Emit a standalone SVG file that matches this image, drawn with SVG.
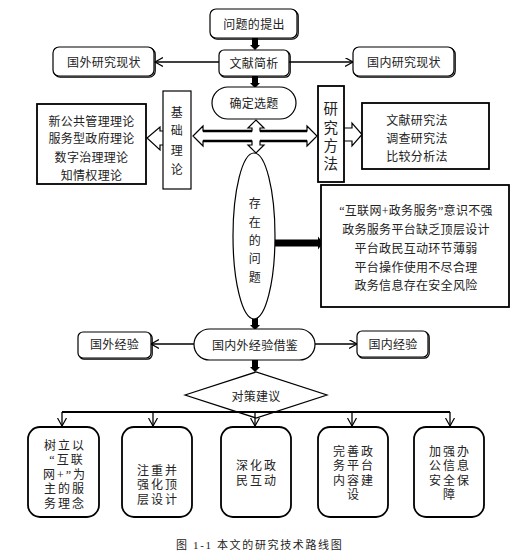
<svg xmlns="http://www.w3.org/2000/svg" width="529" height="559" viewBox="0 0 529 559">
<defs>
<style>
text{font-family:"Liberation Serif","Noto Sans CJK SC",serif;fill:#222;font-size:12px;letter-spacing:0.3px;text-anchor:middle}
.box{fill:#fff;stroke:#000;stroke-width:1.2}
.sh{fill:none;stroke:#000;stroke-width:1.2}
.tb{fill:#fff;stroke:#000;stroke-width:1.8}
.ln{fill:none;stroke:#000;stroke-width:1.3}
.big{font-size:12px;letter-spacing:2px}
.blk{fill:#000;stroke:none}
.hol{fill:#fff;stroke:#000;stroke-width:1.2}
</style>
<marker id="v" markerUnits="userSpaceOnUse" markerWidth="10" markerHeight="10" refX="8" refY="4.5" orient="auto">
<path d="M0,0 L8,4.5 L0,9" fill="none" stroke="#000" stroke-width="1.2"/>
</marker>
</defs>
<rect width="529" height="559" fill="#fff"/>

<g id="connectors">
<polygon class="blk" points="252,38 258,38 258,45 260,45 255,50 250,45 252,45"/>
<polygon class="blk" points="252,76 258,76 258,83 260,83 255,88 250,83 252,83"/>
<line class="ln" x1="219" y1="62" x2="155" y2="62" marker-end="url(#v)"/>
<line class="ln" x1="289" y1="62" x2="353" y2="62" marker-end="url(#v)"/>
<path class="hol" d="M193,136 L203,126 L203,131 L252,131 L252,128 L248,128 L256,120 L264,128 L260,128 L260,131 L307,131 L307,126 L317,136 L307,146 L307,141 L260,141 L260,145 L264,145 L256,153 L248,145 L252,145 L252,141 L203,141 L203,146 Z"/>
<path d="M203,131 L252,131 M260,131 L307,131 M203,141 L252,141 M260,141 L307,141" stroke="#000" stroke-width="2.6" fill="none"/>
<path class="hol" d="M163,131 L160,131 L160,127 L147,138 L160,150 L160,145 L163,145"/>
<path class="hol" d="M344,128 L352,128 L352,123 L362,134.5 L352,146 L352,141 L344,141"/>
<polygon class="blk" points="275,239.5 318,239.5 318,236.5 323,243 318,249.5 318,246.5 275,246.5"/>
<polygon class="blk" points="252,318 258,318 258,325 260,325 255,330 250,325 252,325"/>
<line class="ln" x1="194" y1="344" x2="151" y2="344" marker-end="url(#v)"/>
<line class="ln" x1="315" y1="344" x2="357" y2="344" marker-end="url(#v)"/>
<polygon class="blk" points="252,360 258,360 258,367 260,367 255,372 250,367 252,367"/>
</g>

<g id="n1"><rect class="sh" x="211.2" y="10.2" width="87" height="29" rx="6"/><rect class="box" x="210" y="9" width="87" height="29" rx="6"/><text x="254" y="28.5">问题的提出</text></g>
<g id="n2"><rect class="sh" x="220.2" y="51.2" width="70" height="26" rx="5"/><rect class="box" x="219" y="50" width="70" height="26" rx="5"/><text x="254" y="67.5">文献简析</text></g>
<g id="n3"><rect class="sh" x="54.2" y="48.2" width="101" height="29" rx="6"/><rect class="box" x="53" y="47" width="101" height="29" rx="6"/><text x="104" y="67">国外研究现状</text></g>
<g id="n4"><rect class="sh" x="354.2" y="48.2" width="101" height="29" rx="6"/><rect class="box" x="353" y="47" width="101" height="29" rx="6"/><text x="404" y="67">国内研究现状</text></g>
<g id="n5"><rect class="box" x="212" y="87" width="84" height="32" rx="16"/><text x="254" y="108">确定选题</text></g>
<g id="n6"><rect class="box" x="163" y="91" width="28" height="98"/>
<text x="177" y="117">基</text><text x="177" y="135">础</text><text x="177" y="154.5">理</text><text x="177" y="173.5">论</text></g>
<g id="n7"><rect class="tb" x="37" y="104" width="109" height="80"/>
<text x="91.5" y="125.5">新公共管理理论</text><text x="91.5" y="143">服务型政府理论</text><text x="91.5" y="161.5">数字治理理论</text><text x="91.5" y="179.5">知情权理论</text></g>
<g id="n8"><rect class="tb" x="318" y="86" width="26" height="96"/>
<text x="331" y="113.5" style="font-size:14.5px">研</text><text x="331" y="132.5" style="font-size:14.5px">究</text><text x="331" y="150.5" style="font-size:14.5px">方</text><text x="331" y="168.5" style="font-size:14.5px">法</text></g>
<g id="n9"><rect class="tb" x="362" y="103" width="127" height="66"/>
<text x="417" y="124.5">文献研究法</text><text x="417" y="142.5">调查研究法</text><text x="417" y="160.5">比较分析法</text></g>
<g id="n10"><ellipse class="box" cx="254" cy="236" rx="21" ry="83"/>
<text x="255" y="207.5">存</text><text x="255" y="226.5">在</text><text x="255" y="244.5">的</text><text x="255" y="262.5">问</text><text x="255" y="281.5">题</text></g>
<g id="n11"><rect class="tb" x="321" y="185" width="188" height="122"/>
<text x="416" y="214.5">“互联网+政务服务”意识不强</text>
<text x="416" y="233.5">政务服务平台缺乏顶层设计</text>
<text x="416" y="252.5">平台政民互动环节薄弱</text>
<text x="416" y="271.5">平台操作使用不尽合理</text>
<text x="416" y="289.5">政务信息存在安全风险</text></g>
<g id="n12"><rect class="box" x="194" y="329" width="121" height="31" rx="15.5"/><text x="255" y="350">国内外经验借鉴</text></g>
<g id="n13"><rect class="sh" x="79.2" y="333.2" width="73" height="26" rx="5"/><rect class="box" x="78" y="332" width="73" height="26" rx="5"/><text x="114.5" y="349">国外经验</text></g>
<g id="n14"><rect class="sh" x="358.2" y="332.2" width="71" height="26" rx="5"/><rect class="box" x="357" y="331" width="71" height="26" rx="5"/><text x="393" y="348.5">国内经验</text></g>
<g id="n15"><polygon class="box" points="185,395 256,372 327,395 256,418"/><text x="256" y="400.5">对策建议</text></g>

<g id="bus">
<line x1="62" y1="412" x2="450" y2="412" stroke="#000" stroke-width="2"/>
<line class="ln" x1="62" y1="412" x2="62" y2="426" marker-end="url(#v)"/>
<line class="ln" x1="153" y1="412" x2="153" y2="426" marker-end="url(#v)"/>
<line class="ln" x1="255" y1="412" x2="255" y2="426" marker-end="url(#v)"/>
<line class="ln" x1="352" y1="412" x2="352" y2="426" marker-end="url(#v)"/>
<line class="ln" x1="450" y1="412" x2="450" y2="426" marker-end="url(#v)"/>
</g>

<g id="b1"><rect class="tb" x="28" y="427" width="71" height="90" rx="12"/>
<text class="big" x="65" y="449.5">树立以</text><text class="big" x="67" y="464">“互联</text><text class="big" x="65" y="478.5">网+”为</text><text class="big" x="65" y="493">主的服</text><text class="big" x="65" y="507.5">务理念</text></g>
<g id="b2"><rect class="tb" x="122" y="427" width="70" height="90" rx="12"/>
<text class="big" x="158" y="474.5">注重并</text><text class="big" x="158" y="489">强化顶</text><text class="big" x="158" y="503.5">层设计</text></g>
<g id="b3"><rect class="tb" x="221" y="427" width="70" height="90" rx="12"/>
<text class="big" x="257" y="470">深化政</text><text class="big" x="257" y="484.5">民互动</text></g>
<g id="b4"><rect class="tb" x="318" y="427" width="70" height="90" rx="12"/>
<text class="big" x="354" y="455.5">完善政</text><text class="big" x="354" y="470">务平台</text><text class="big" x="354" y="484.5">内容建</text><text class="big" x="354" y="499">设</text></g>
<g id="b5"><rect class="tb" x="414" y="427" width="70" height="90" rx="12"/>
<text class="big" x="450" y="455.5">加强办</text><text class="big" x="450" y="470">公信息</text><text class="big" x="450" y="484.5">安全保</text><text class="big" x="450" y="499">障</text></g>

<text x="176" y="549" style="font-size:11px;text-anchor:start" textLength="166" lengthAdjust="spacing">图 1-1   本文的研究技术路线图</text>
</svg>
